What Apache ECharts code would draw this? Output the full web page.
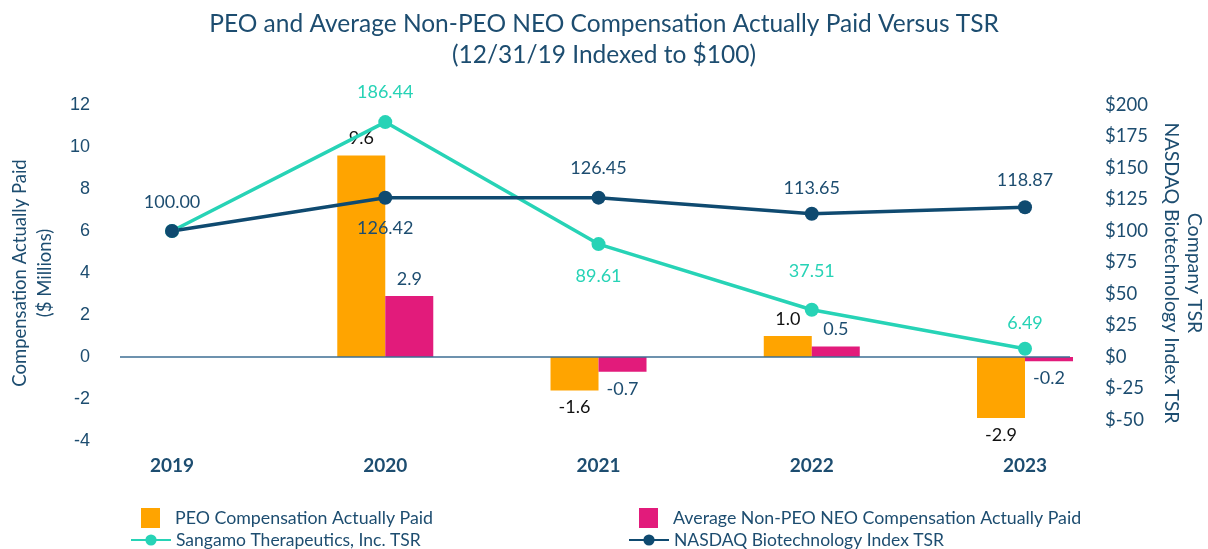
<!DOCTYPE html>
<html lang="en">
    <head>
        <meta charset="UTF-8" />
        <script type="text/javascript" src="https://cdn.jsdelivr.net/npm/echarts@6/dist/echarts.min.js"></script>
        <title>CAP vs TSR</title>
        <style type="text/css">
            html, body { margin: 0; padding: 0; background: #fff; }
            #chart { width: 1208px; height: 549px; }
        </style>
    </head>
    <body>
        <div id="chart"></div>
        <script type="text/javascript">
            // values
            const years = ["2019", "2020", "2021", "2022", "2023"];
            const peoCap = [null, 9.6, -1.6, 1.0, -2.9];
            const nonPeoCap = [null, 2.9, -0.7, 0.5, -0.2];
            const sangamoTsr = [100, 186.44, 89.61, 37.51, 6.49];
            const nasdaqTsr = [100, 126.42, 126.45, 113.65, 118.87];
            const leftTicks = [-4, -2, 0, 2, 4, 6, 8, 10, 12];
            const rightTicks = [-50, -25, 0, 25, 50, 75, 100, 125, 150, 175, 200];

            const navy = "#0f4a70";
            const teal = "#27d3b6";
            const orange = "#ffa400";
            const pink = "#e21b7b";
            const textNavy = "#1d4d70";
            const font = "Lato";

            let chart = echarts.init(document.getElementById("chart"));

            function barData(values, labelColor) {
                return values.map((v, i) =>
                    v === null
                        ? [i, null]
                        : {
                              value: [i, v],
                              label: {
                                  position: v < 0 ? "bottom" : "top",
                                  color: labelColor,
                              },
                          }
                );
            }

            function lineData(values, placement) {
                return values.map((v, i) => {
                    let p = placement[i];
                    return {
                        value: [i, v],
                        label: p
                            ? { show: true, position: p[0], distance: p[1] }
                            : { show: false },
                    };
                });
            }

            let legendBase = {
                textStyle: { color: textNavy, fontFamily: font, fontSize: 17.5 },
                itemGap: 10,
                padding: 0,
                selectedMode: false,
            };
            let barLegendText = {
                color: textNavy,
                fontFamily: font,
                fontSize: 17.8,
                padding: [0, 0, 0, 10],
            };

            let option = {
                animation: false,
                backgroundColor: "#fff",
                title: {
                    text: "PEO and Average Non-PEO NEO Compensation Actually Paid Versus TSR\n(12/31/19 Indexed to $100)",
                    left: "center",
                    top: 4,
                    textStyle: {
                        color: textNavy,
                        fontFamily: font,
                        fontWeight: "normal",
                        fontSize: 24.5,
                        lineHeight: 31,
                    },
                },
                legend: [
                    Object.assign({}, legendBase, {
                        data: [{ name: "PEO Compensation Actually Paid", icon: "rect" }],
                        left: 141, top: 508, itemWidth: 19, itemHeight: 20,
                        textStyle: barLegendText,
                    }),
                    Object.assign({}, legendBase, {
                        data: [{ name: "Average Non-PEO NEO Compensation Actually Paid", icon: "rect" }],
                        left: 639, top: 508, itemWidth: 19, itemHeight: 20,
                        textStyle: barLegendText,
                    }),
                    Object.assign({}, legendBase, {
                        data: ["Sangamo Therapeutics, Inc. TSR"],
                        left: 130, top: 531, itemWidth: 40, itemHeight: 14,
                    }),
                    Object.assign({}, legendBase, {
                        data: ["NASDAQ Biotechnology Index TSR"],
                        left: 628, top: 531, itemWidth: 40, itemHeight: 14,
                    }),
                ],
                grid: {
                    left: 120,
                    right: 138,
                    top: 105,
                    bottom: 108,
                    outerBoundsMode: "none",
                },
                xAxis: {
                    type: "value",
                    min: -0.244,
                    max: 4.211,
                    splitLine: { show: false },
                    axisLine: { show: false },
                    axisTick: { show: false },
                    axisLabel: {
                        customValues: years.map((y, i) => i),
                        formatter: (v) => years[Math.round(v)],
                        margin: 15,
                        color: textNavy,
                        fontFamily: font,
                        fontWeight: "bold",
                        fontSize: 19,
                    },
                },
                yAxis: [
                    {
                        type: "value",
                        min: -4,
                        max: 12,
                        interval: 2,
                        name: "Compensation Actually Paid\n($ Millions)",
                        nameLocation: "middle",
                        nameGap: 62,
                        nameTextStyle: {
                            color: textNavy,
                            fontFamily: font,
                            fontSize: 18.5,
                            lineHeight: 25,
                        },
                        splitLine: { show: false },
                        axisLine: { show: false },
                        axisTick: { show: false },
                        axisLabel: {
                            customValues: leftTicks,
                            margin: 30,
                            color: textNavy,
                            fontFamily: "Liberation Sans",
                            fontSize: 18,
                        },
                    },
                    {
                        type: "value",
                        min: -200 / 3,
                        max: 200,
                        name: "Company TSR\nNASDAQ Biotechnology Index TSR",
                        nameLocation: "middle",
                        nameRotate: -90,
                        nameGap: 90,
                        nameTextStyle: {
                            color: textNavy,
                            fontFamily: font,
                            fontSize: 19.5,
                            lineHeight: 23,
                        },
                        splitLine: { show: false },
                        axisLine: { show: false },
                        axisTick: { show: false },
                        axisLabel: {
                            customValues: rightTicks,
                            formatter: (v) => "$" + v,
                            margin: 35,
                            color: textNavy,
                            fontFamily: font,
                            fontSize: 18.5,
                        },
                    },
                ],
                series: [
                    {
                        name: "PEO Compensation Actually Paid",
                        type: "bar",
                        barWidth: 48,
                        barGap: "0%",
                        itemStyle: { color: orange },
                        label: {
                            show: true,
                            distance: 8,
                            fontFamily: font,
                            fontSize: 18,
                            formatter: (p) => p.value[1].toFixed(1),
                        },
                        data: barData(peoCap, "#111"),
                        markLine: {
                            silent: true,
                            symbol: "none",
                            label: { show: false },
                            lineStyle: { color: "#3d6e93", width: 1.5, type: "solid" },
                            data: [{ yAxis: 0 }],
                        },
                    },
                    {
                        name: "Average Non-PEO NEO Compensation Actually Paid",
                        type: "bar",
                        barWidth: 48,
                        barGap: "0%",
                        itemStyle: { color: pink },
                        label: {
                            show: true,
                            distance: 8,
                            fontFamily: font,
                            fontSize: 18,
                            formatter: (p) => p.value[1].toFixed(1),
                        },
                        data: barData(nonPeoCap, textNavy),
                    },
                    {
                        name: "Sangamo Therapeutics, Inc. TSR",
                        type: "line",
                        yAxisIndex: 1,
                        symbol: "circle",
                        symbolSize: 14,
                        itemStyle: { color: teal },
                        lineStyle: { color: teal, width: 3.5 },
                        label: {
                            color: teal,
                            fontFamily: font,
                            fontSize: 18,
                            formatter: (p) => p.value[1].toFixed(2),
                        },
                        data: lineData(sangamoTsr, [
                            null,
                            ["top", 14],
                            ["bottom", 16],
                            ["top", 23],
                            ["top", 10],
                        ]),
                    },
                    {
                        name: "NASDAQ Biotechnology Index TSR",
                        type: "line",
                        yAxisIndex: 1,
                        symbol: "circle",
                        symbolSize: 14,
                        itemStyle: { color: navy },
                        lineStyle: { color: navy, width: 3.5 },
                        label: {
                            color: textNavy,
                            fontFamily: font,
                            fontSize: 18,
                            formatter: (p) => p.value[1].toFixed(2),
                        },
                        data: lineData(nasdaqTsr, [
                            ["top", 13],
                            ["bottom", 14],
                            ["top", 13],
                            ["top", 10],
                            ["top", 11],
                        ]),
                    },
                ],
            };
            chart.setOption(option);
        </script>
    </body>
</html>
